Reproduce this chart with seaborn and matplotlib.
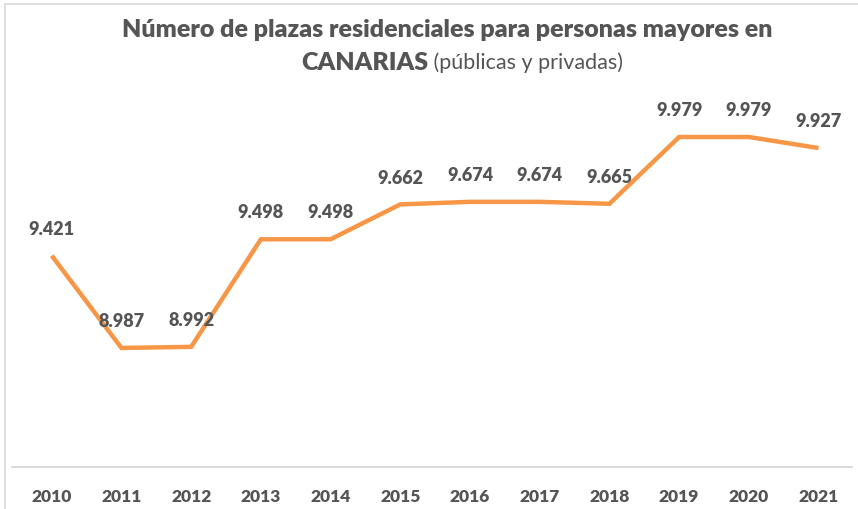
import numpy as np
import pandas as pd
import matplotlib
matplotlib.use("Agg")
import matplotlib.pyplot as plt
import seaborn as sns
from matplotlib.patches import Rectangle

# datos del gráfico
years = [2010, 2011, 2012, 2013, 2014, 2015, 2016, 2017, 2018, 2019, 2020, 2021]
plazas = [9421, 8987, 8992, 9498, 9498, 9662, 9674, 9674, 9665, 9979, 9979, 9927]
title_line1 = "Número de plazas residenciales para personas mayores en"
title_bold = "CANARIAS"
title_rest = " (públicas y privadas)"

df = pd.DataFrame({"year": years, "plazas": plazas})

sns.set_style("white")
plt.rcParams["font.family"] = ["Lato", "DejaVu Sans"]

W, H = 858, 509
fig = plt.figure(figsize=(W / 100, H / 100), dpi=100)
ax = fig.add_axes([12 / W, (H - 467) / H, (852 - 12) / W, (467 - 100) / H])

text_col = "#555555"
line_col = "#F79646"

sns.lineplot(data=df, x="year", y="plazas", ax=ax, color=line_col, linewidth=3.2,
             solid_joinstyle="miter", solid_capstyle="butt")

for x, y in zip(years, plazas):
    lab = f"{y:,}".replace(",", ".")
    ax.annotate(lab, (x, y), xytext=(0, 19), textcoords="offset points",
                ha="center", va="center", fontsize=13, fontweight="heavy", color=text_col)

ax.set_xlim(2009.43, 2021.48)
ax.set_ylim(8427, 10153)
ax.set_xticks(years)
ax.set_xticklabels([str(y) for y in years], fontsize=12.5, fontweight="heavy", color=text_col)
ax.tick_params(axis="x", length=0, pad=16)
ax.set_yticks([])
ax.set_xlabel("")
ax.set_ylabel("")
for s in ["top", "left", "right"]:
    ax.spines[s].set_visible(False)
ax.spines["bottom"].set_color("#d9d9d9")
ax.spines["bottom"].set_linewidth(1.3)

# borde del gráfico
fig.patches.append(Rectangle((4.5 / W, -0.1), 2, 1.1 - 4.5 / H, transform=fig.transFigure,
                             fill=False, edgecolor="#d9d9d9", linewidth=1.2))

# título
fig.text(447 / W, 1 - 30 / H, title_line1, ha="center", va="center",
         fontsize=18, fontweight="heavy", color=text_col)
t1 = fig.text(0, 1 - 63 / H, title_bold, ha="left", va="center",
              fontsize=18, fontweight="heavy", color=text_col)
t2 = fig.text(0, 1 - 63 / H, title_rest, ha="left", va="center",
              fontsize=15.5, color=text_col)
r = fig.canvas.get_renderer()
w1 = t1.get_window_extent(r).width
w2 = t2.get_window_extent(r).width
x0 = 462 - (w1 + w2) / 2
t1.set_x(x0 / W)
t2.set_x((x0 + w1) / W)

fig.savefig("out.png", dpi=100)
